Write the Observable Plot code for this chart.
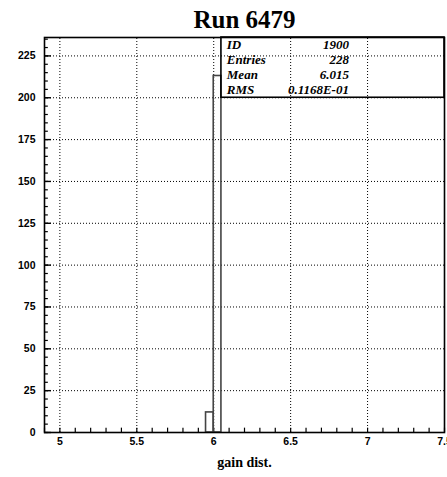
<!DOCTYPE html>
<html>
<head>
<meta charset="utf-8">
<script src="https://cdn.jsdelivr.net/npm/d3@7"></script>
<script src="https://cdn.jsdelivr.net/npm/@observablehq/plot@0.6"></script>
<style>
  html, body { margin: 0; padding: 0; background: #fff; }
  svg { display: block; }
</style>
</head>
<body>
<div id="chart"></div>
<script>
// Histogram bins (lower edge, upper edge, entries)
const binLow = [5.95, 6.0];
const binHigh = [6.0, 6.05];
const binCounts = [12, 213];

// Axis ticks
const xTickLabels = [5, 5.5, 6, 6.5, 7, 7.5];
const xGrid = [5, 5.5, 6, 6.5, 7];
const yTickLabels = [0, 25, 50, 75, 100, 125, 150, 175, 200, 225];
const yGrid = [25, 50, 75, 100, 125, 150, 175, 200, 225];
const xMinor = d3.range(49, 76).map(d => d / 10);
const yMinor = d3.range(0, 236, 5);

// Statistics box
const statNames = ["ID", "Entries", "Mean", "RMS"];
const statValues = ["1900", "228", "6.015", "0.1168E-01"];
const statRowY = [229.1, 220.2, 211.2, 202.3];

const title = "Run 6479";
const xTitle = "gain dist.";

const bins = binCounts.map((c, i) => ({x1: binLow[i], x2: binHigh[i], y: c}));
const stats = statNames.map((n, i) => ({name: n, value: statValues[i], y: statRowY[i]}));

const xDomain = [4.9, 7.5];
const yDomain = [0, 236];
const sans = "'Liberation Sans', Arial, sans-serif";
const serif = "'Liberation Serif', 'Times New Roman', serif";

const chart = Plot.plot({
  width: 447,
  height: 477,
  marginLeft: 44,
  marginRight: 3,
  marginTop: 37,
  marginBottom: 45,
  x: {domain: xDomain},
  y: {domain: yDomain},
  style: {fontFamily: sans, background: "#fff"},
  marks: [
    // dotted grid
    Plot.ruleX(xGrid, {y1: yDomain[0], y2: yDomain[1], stroke: "#000", strokeWidth: 1, strokeDasharray: "1,2"}),
    Plot.ruleY(yGrid, {x1: xDomain[0], x2: xDomain[1], stroke: "#000", strokeWidth: 1, strokeDasharray: "1,2"}),
    // inward minor ticks
    Plot.ruleX(xMinor, {y1: 0, y2: 2.6, stroke: "#000", strokeWidth: 1.2}),
    Plot.ruleY(yMinor, {x1: xDomain[0], x2: xDomain[0] + 0.025, stroke: "#000", strokeWidth: 1.2}),
    Plot.ruleY(yTickLabels, {x1: xDomain[0], x2: xDomain[0] + 0.045, stroke: "#000", strokeWidth: 1.4}),
    // histogram contour
    Plot.rectY(bins, {x1: "x1", x2: "x2", y: "y", fill: "none", stroke: "#444", strokeWidth: 1.6}),
    // statistics box
    Plot.rect([{x1: 6.05, x2: 7.5, y1: 200, y2: 236}], {x1: "x1", x2: "x2", y1: "y1", y2: "y2", fill: "none", stroke: "#000", strokeWidth: 1.6}),
    Plot.text(stats, {x: 6.085, y: "y", text: "name", textAnchor: "start", lineAnchor: "bottom",
      fontFamily: serif, fontWeight: "bold", fontStyle: "italic", fontSize: 13, fill: "#000"}),
    Plot.text(stats, {x: 6.879, y: "y", text: "value", textAnchor: "end", lineAnchor: "bottom",
      fontFamily: serif, fontWeight: "bold", fontStyle: "italic", fontSize: 13, fill: "#000"}),
    // axes
    Plot.axisX(xTickLabels, {tickSize: 0, tickPadding: 5, label: null, fontSize: 10.5, fontWeight: "bold", tickFormat: d => String(d)}),
    Plot.axisY(yTickLabels, {tickSize: 0, tickPadding: 9, label: null, fontSize: 10.5, fontWeight: "bold"}),
    Plot.frame({stroke: "#000", strokeWidth: 1.6}),
    // titles
    Plot.text([title], {frameAnchor: "top", dy: -10, lineAnchor: "bottom", fontFamily: serif, fontWeight: "bold", fontSize: 25, fill: "#000"}),
    Plot.text([xTitle], {frameAnchor: "bottom", dy: 34, lineAnchor: "bottom", fontFamily: serif, fontWeight: "bold", fontSize: 14, fill: "#000"})
  ]
});
document.getElementById("chart").append(chart);
</script>
</body>
</html>
